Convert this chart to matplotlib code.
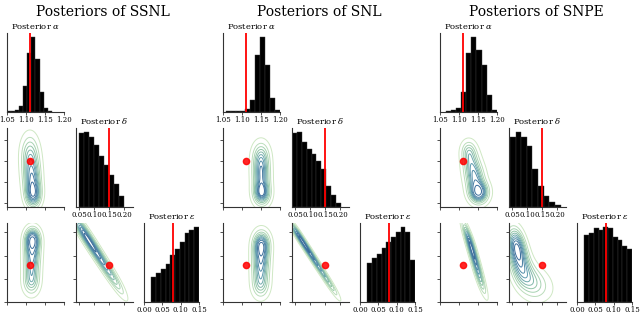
"""
Corner plots of the posteriors for SSNL, SNL and SNPE
"""

import numpy as np
import matplotlib
matplotlib.use('Agg')
import matplotlib.pyplot as plt
from matplotlib.colors import LinearSegmentedColormap

plt.rcParams['font.family'] = ['DejaVu Serif']
plt.rcParams['mathtext.fontset'] = 'dejavuserif'

# nomes e valores verdadeiros
methods = ['SSNL', 'SNL', 'SNPE']
param_labels = [r'Posterior $\alpha$', r'Posterior $\delta$', r'Posterior $\varepsilon$']
true_vals = [1.11, 0.15, 0.08]
alpha_ticks = [1.05, 1.10, 1.15, 1.20]
delta_ticks = [0.05, 0.10, 0.15, 0.20]
eps_ticks = [0.00, 0.05, 0.10, 0.15]
alpha_lim = (1.05, 1.20)
delta_lim = (0.04, 0.23)
eps_lim = (0.0, 0.15)
eps_lim_2d = (0.0, 0.17)

# histogramas: (inicio, fim) dos bins e alturas relativas
ssnl_alpha_range = (1.049, 1.168)
ssnl_alpha = [0.01, 0.01, 0.02, 0.08, 0.34, 0.79, 1.0, 0.70, 0.27, 0.05, 0.01]
snl_alpha_range = (1.057, 1.200)
snl_alpha = [0.01, 0.01, 0.01, 0.01, 0.04, 0.16, 0.76, 1.0, 0.62, 0.18, 0.02]
snpe_alpha_range = (1.065, 1.200)
snpe_alpha = [0.01, 0.02, 0.05, 0.26, 0.78, 1.0, 0.82, 0.62, 0.22, 0.03]

ssnl_delta_range = (0.05, 0.20)
ssnl_delta = [0.98, 1.0, 0.93, 0.82, 0.68, 0.56, 0.42, 0.30, 0.14]
snl_delta_range = (0.04, 0.203)
snl_delta = [0.99, 1.0, 0.86, 0.77, 0.70, 0.61, 0.50, 0.28, 0.16, 0.05]
snpe_delta_range = (0.043, 0.212)
snpe_delta = [0.93, 1.0, 0.93, 0.81, 0.50, 0.28, 0.14, 0.06, 0.02]

ssnl_eps_range = (0.02, 0.15)
ssnl_eps = [0.33, 0.39, 0.44, 0.50, 0.62, 0.70, 0.80, 0.92, 0.96, 1.0]
snl_eps_range = (0.02, 0.15)
snl_eps = [0.52, 0.58, 0.64, 0.72, 0.80, 0.87, 0.93, 1.0, 0.93, 0.56]
snpe_eps_range = (0.02, 0.15)
snpe_eps = [0.89, 0.92, 0.98, 0.96, 1.0, 0.99, 0.87, 0.82, 0.75, 0.71]

# densidades 2D: componentes (mx, my, sx, sy, rho, peso)
ssnl_ad = [(1.110, 0.175, 0.015, 0.028, 0.0, 0.65), (1.113, 0.140, 0.015, 0.028, 0.0, 0.8),
           (1.116, 0.105, 0.014, 0.025, 0.0, 0.95), (1.119, 0.070, 0.013, 0.020, 0.0, 1.0)]
ssnl_ae = [(1.117, 0.135, 0.013, 0.016, 0.0, 1.0), (1.116, 0.105, 0.014, 0.020, 0.0, 0.9),
           (1.115, 0.070, 0.014, 0.020, 0.0, 0.7), (1.114, 0.040, 0.014, 0.017, 0.0, 0.5)]
ssnl_de = [(0.06, 0.155, 0.022, 0.022, -0.85, 1.0), (0.09, 0.125, 0.022, 0.022, -0.85, 0.95),
           (0.12, 0.095, 0.022, 0.022, -0.85, 0.8), (0.15, 0.065, 0.022, 0.022, -0.85, 0.6),
           (0.18, 0.035, 0.022, 0.022, -0.85, 0.35)]

snl_ad = [(1.150, 0.165, 0.0145, 0.022, 0.0, 0.65), (1.150, 0.135, 0.0145, 0.024, 0.0, 0.8),
          (1.151, 0.105, 0.0145, 0.024, 0.0, 0.9), (1.152, 0.072, 0.0140, 0.018, 0.0, 1.0)]
snl_ae = [(1.151, 0.125, 0.0140, 0.018, 0.0, 1.0), (1.150, 0.095, 0.0145, 0.022, 0.0, 0.9),
          (1.149, 0.065, 0.0145, 0.022, 0.0, 0.7), (1.149, 0.035, 0.0145, 0.018, 0.0, 0.5)]
snl_de = [(0.06, 0.145, 0.018, 0.018, -0.92, 1.0), (0.09, 0.115, 0.018, 0.018, -0.92, 0.9),
          (0.12, 0.085, 0.018, 0.018, -0.92, 0.75), (0.15, 0.055, 0.018, 0.018, -0.92, 0.5),
          (0.175, 0.030, 0.018, 0.018, -0.92, 0.3)]

snpe_ad = [(1.152, 0.075, 0.016, 0.017, 0.0, 1.0), (1.142, 0.110, 0.016, 0.022, 0.0, 0.8),
           (1.132, 0.145, 0.015, 0.022, 0.0, 0.55), (1.125, 0.175, 0.013, 0.017, 0.0, 0.3)]
snpe_ae = [(1.125, 0.140, 0.011, 0.022, -0.85, 1.0), (1.133, 0.115, 0.011, 0.022, -0.85, 0.95),
           (1.142, 0.090, 0.011, 0.022, -0.85, 0.85), (1.150, 0.065, 0.011, 0.022, -0.85, 0.7),
           (1.158, 0.040, 0.011, 0.022, -0.85, 0.45)]
snpe_de = [(0.065, 0.120, 0.018, 0.024, -0.3, 1.0), (0.078, 0.080, 0.022, 0.028, -0.3, 0.9),
           (0.105, 0.050, 0.028, 0.026, -0.4, 0.6), (0.140, 0.040, 0.032, 0.022, -0.3, 0.3)]

hists = {
    'SSNL': [(ssnl_alpha_range, ssnl_alpha), (ssnl_delta_range, ssnl_delta), (ssnl_eps_range, ssnl_eps)],
    'SNL': [(snl_alpha_range, snl_alpha), (snl_delta_range, snl_delta), (snl_eps_range, snl_eps)],
    'SNPE': [(snpe_alpha_range, snpe_alpha), (snpe_delta_range, snpe_delta), (snpe_eps_range, snpe_eps)],
}
dens = {
    'SSNL': {(1, 0): ssnl_ad, (2, 0): ssnl_ae, (2, 1): ssnl_de},
    'SNL': {(1, 0): snl_ad, (2, 0): snl_ae, (2, 1): snl_de},
    'SNPE': {(1, 0): snpe_ad, (2, 0): snpe_ae, (2, 1): snpe_de},
}

kde_cmap = LinearSegmentedColormap.from_list('kde', ['#cfe8c4', '#93c6a8', '#5e9bae', '#3a6c9a'])

fig_w, fig_h = 640, 313
fig = plt.figure(figsize=(fig_w / 100, fig_h / 100), dpi=100)

panel_left = [7, 223, 440]
col_off = [0, 69, 137]
col_w = [57, 57, 55]
row_top = [33, 128, 223]
ax_h = 79


def px_axes(left, top, w):
    return fig.add_axes([left / fig_w, 1 - (top + ax_h) / fig_h, w / fig_w, ax_h / fig_h])


def style(ax):
    for s in ['top', 'right']:
        ax.spines[s].set_visible(False)
    for s in ['left', 'bottom']:
        ax.spines[s].set_linewidth(0.8)
        ax.spines[s].set_color('#333333')
    ax.tick_params(length=2, width=0.6, pad=1, labelsize=5, color='#333333')


def density(comps, xs, ys):
    X, Y = np.meshgrid(xs, ys)
    Z = np.zeros_like(X)
    for mx, my, sx, sy, rho, w in comps:
        u = (X - mx) / sx
        v = (Y - my) / sy
        q = (u * u - 2 * rho * u * v + v * v) / (2 * (1 - rho ** 2))
        Z += w * np.exp(-q) / (sx * sy * np.sqrt(1 - rho ** 2))
    return X, Y, Z


def iso_levels(Z, props):
    flat = np.sort(Z.ravel())
    cum = np.cumsum(flat)
    cum /= cum[-1]
    return [flat[np.searchsorted(cum, p)] for p in props]


diag_lims = [alpha_lim, delta_lim, eps_lim]
diag_ticks = [alpha_ticks, delta_ticks, eps_ticks]
lim_x2d = [alpha_lim, delta_lim]
tick_x2d = [alpha_ticks, delta_ticks]
lim_y2d = {1: delta_lim, 2: eps_lim_2d}
tick_y2d = {1: delta_ticks, 2: eps_ticks}

for p, m in enumerate(methods):
    # histogramas na diagonal
    for i in range(3):
        ax = px_axes(panel_left[p] + col_off[i], row_top[i], col_w[i])
        (lo, hi), h = hists[m][i]
        edges = np.linspace(lo, hi, len(h) + 1)
        ax.bar(edges[:-1], h, width=np.diff(edges), align='edge',
               color='black', edgecolor='#3a3a3a', linewidth=0.3)
        ax.axvline(true_vals[i], color='red', lw=1.3)
        ax.set_xlim(diag_lims[i])
        ax.set_xticks(diag_ticks[i])
        ax.set_xticklabels(['%.2f' % t for t in diag_ticks[i]])
        ax.set_yticks([])
        ax.set_title(param_labels[i], fontsize=6, pad=3)
        style(ax)

    # contornos abaixo da diagonal
    for (i, j), comps in dens[m].items():
        ax = px_axes(panel_left[p] + col_off[j], row_top[i], col_w[j])
        xs = np.linspace(lim_x2d[j][0] - 0.03, lim_x2d[j][1] + 0.03, 240)
        ys = np.linspace(lim_y2d[i][0] - 0.03, lim_y2d[i][1] + 0.03, 240)
        X, Y, Z = density(comps, xs, ys)
        levels = iso_levels(Z, np.linspace(0.05, 0.92, 10))
        cols = [kde_cmap(t) for t in np.linspace(0, 1, len(levels))]
        ax.contour(X, Y, Z, levels=levels, colors=cols, linewidths=0.7)
        ax.plot(true_vals[j], true_vals[i], 'o', color='red', ms=4.5, alpha=0.85)
        ax.set_xlim(lim_x2d[j])
        ax.set_ylim(lim_y2d[i])
        ax.set_xticks(tick_x2d[j])
        ax.set_yticks(tick_y2d[i])
        ax.set_xticklabels([])
        ax.set_yticklabels([])
        style(ax)

    cx = (panel_left[p] + (col_off[2] + col_w[2]) / 2) / fig_w
    fig.text(cx, 1 - 12 / fig_h, 'Posteriors of %s' % m, ha='center', va='center', fontsize=10)

fig.savefig('out.png', dpi=100)
